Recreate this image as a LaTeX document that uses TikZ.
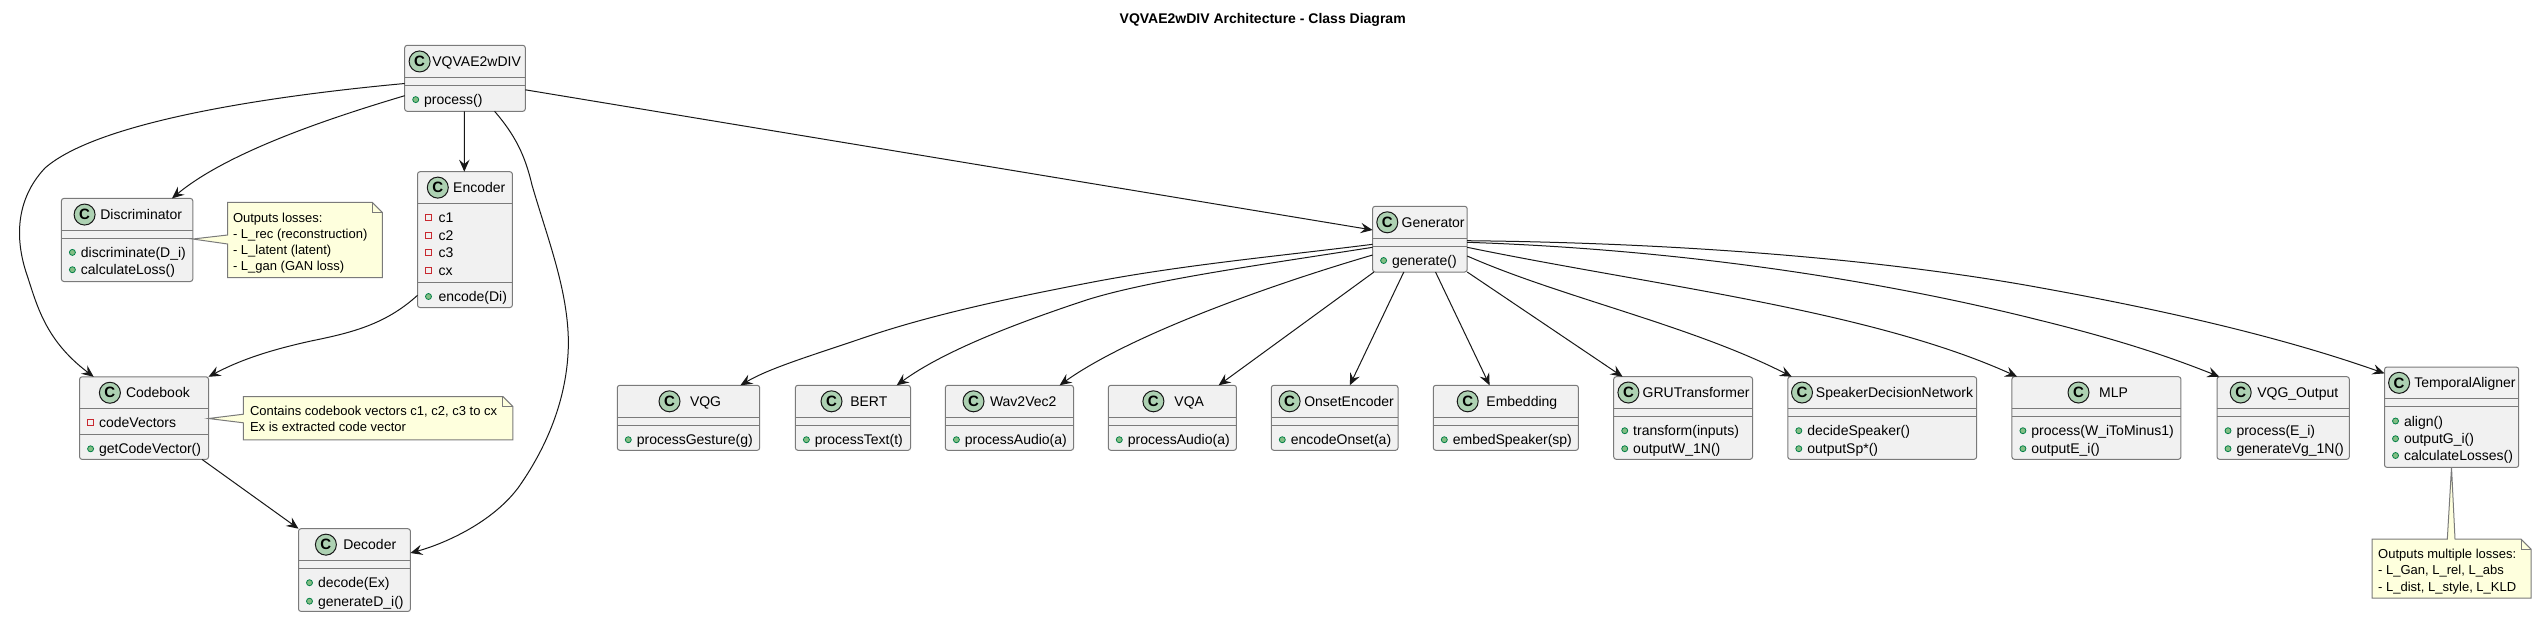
\documentclass[tikz,border=0pt]{standalone}
\usepackage{fontspec}
\setmainfont{Liberation Sans}
\usetikzlibrary{arrows.meta}
\definecolor{boxfill}{HTML}{F1F1F1}
\definecolor{boxline}{HTML}{7A7A7A}
\definecolor{notefill}{HTML}{FEFFDD}
\definecolor{circfill}{HTML}{ADD1B2}
\definecolor{inkline}{HTML}{181818}
\definecolor{pubfill}{HTML}{84BE84}
\definecolor{publine}{HTML}{038048}
\definecolor{privline}{HTML}{C82930}
\tikzset{
  classbox/.style={draw=boxline,fill=boxfill,line width=0.5pt,rounded corners=1.25pt,inner sep=0pt,outer sep=0pt},
  sepline/.style={draw=boxline,line width=0.5pt},
  cnamefont/.style={inner sep=0pt,outer sep=0pt,anchor=base west,text=black,font=\fontsize{7}{8.4}\selectfont},
  memberfont/.style={inner sep=0pt,outer sep=0pt,anchor=base west,text=black,font=\fontsize{7}{8.4}\selectfont},
  notefont/.style={inner sep=0pt,outer sep=0pt,anchor=base west,text=black,font=\fontsize{6.5}{7.8}\selectfont},
  notebody/.style={draw=boxline,fill=notefill,line width=0.5pt,line join=miter},
  foldline/.style={draw=boxline,line width=0.5pt},
  spot/.style={draw=inkline,fill=circfill,line width=0.5pt},
  edge/.style={draw=inkline,line width=0.5pt,-{Stealth[length=6pt,width=5.2pt,inset=2.2pt]}},
}
\newcommand{\cbox}[7]{%
  \node[classbox,minimum width={(#4-#2)*0.5},minimum height={(#5-#3)*0.5}] (#1) at ({(#2+#4)/2},{(#3+#5)/2}) {};
  \draw[sepline] (#2,#6) -- (#4,#6);
  \draw[sepline] (#2,#7) -- (#4,#7);
  \pgfmathsetmacro{\ym}{(#3+#6)/2}
  \pgfmathsetmacro{\xm}{#2+11}
  \pgfmathsetmacro{\xt}{#2+19.5}
}
\newcommand{\chead}[4]{%
  \fill[spot] (#2,\ym) circle (5.25pt);
  \node[inner sep=0pt,text=black,font=\fontsize{7.5}{9}\selectfont\bfseries] (#1-c) at (#2,\ym) {C};
  \node[cnamefont] (#1-t) at (#3,{\ym+5}) {#4};
}
\newcommand{\pubm}[3]{%
  \fill[draw=publine,fill=pubfill,line width=0.4pt] (\xm,#2) circle (1.5pt);
  \node[memberfont] (#1) at (\xt,{#2+5}) {#3};
}
\newcommand{\prim}[3]{%
  \draw[privline,line width=0.4pt] ({\xm-3},{#2-3}) rectangle ({\xm+3},{#2+3});
  \node[memberfont] (#1) at (\xt,{#2+5}) {#3};
}
\begin{document}
\begin{tikzpicture}[x=0.5pt,y=-0.5pt]
\useasboundingbox (0,0) rectangle (2538,617);
\fill[white] (0,0) rectangle (2538,617);
\node[inner sep=0pt,text=black,font=\fontsize{7}{8.4}\selectfont\bfseries] (title) at (1262.7,20) {VQVAE2wDIV Architecture - Class Diagram};

% connectors first
\cbox{vq}{404.7}{45.3}{525.3}{111.3}{77.6}{85.4}
\chead{vq}{419.6}{432.4}{VQVAE2wDIV}
\pubm{vq-1}{99.6}{process()}

\cbox{disc}{61.4}{198.4}{192.8}{281.5}{230.7}{238.6}
\chead{disc}{84.6}{100.3}{Discriminator}
\pubm{disc-1}{252.4}{discriminate(D\_i)}
\pubm{disc-2}{269.7}{calculateLoss()}

\cbox{enc}{417.5}{171.7}{512.4}{307.5}{203.5}{282.7}
\chead{enc}{437.8}{453.2}{Encoder}
\pgfmathsetmacro{\xm}{417.5+11}\pgfmathsetmacro{\xt}{417.5+21}
\prim{enc-1}{217.3}{c1}
\prim{enc-2}{235.4}{c2}
\prim{enc-3}{252.8}{c3}
\prim{enc-4}{270.5}{cx}
\pubm{enc-5}{296.5}{encode(Di)}

\cbox{cb}{79.6}{376.8}{208.5}{459.4}{408.7}{434.6}
\chead{cb}{109.9}{126}{Codebook}
\prim{cb-1}{422.4}{codeVectors}
\pubm{cb-2}{448.8}{getCodeVector()}

\cbox{dec}{298.5}{528.7}{410.4}{611.4}{560.6}{568.5}
\chead{dec}{325.9}{343.3}{Decoder}
\pubm{dec-1}{582.7}{decode(Ex)}
\pubm{dec-2}{601.2}{generateD\_i()}

\cbox{gen}{1372.6}{206.3}{1467.2}{272}{238.3}{246.3}
\chead{gen}{1387.3}{1401.6}{Generator}
\pubm{gen-1}{260.5}{generate()}

\cbox{vqg}{617.3}{385.3}{759.7}{450.3}{417.3}{425.3}
\chead{vqg}{669.5}{690}{VQG}
\pubm{vqg-1}{439.7}{processGesture(g)}

\cbox{bert}{795.4}{385.3}{910.5}{450.3}{417.3}{425.3}
\chead{bert}{831.5}{850.3}{BERT}
\pubm{bert-1}{439.7}{processText(t)}

\cbox{wav}{945.4}{385.3}{1073.5}{450.3}{417.3}{425.3}
\chead{wav}{973.5}{990}{Wav2Vec2}
\pubm{wav-1}{439.7}{processAudio(a)}

\cbox{vqa}{1108.3}{385.3}{1236.4}{450.3}{417.3}{425.3}
\chead{vqa}{1153.4}{1174.4}{VQA}
\pubm{vqa-1}{439.7}{processAudio(a)}

\cbox{ons}{1271.3}{385.3}{1398}{450.3}{417.3}{425.3}
\chead{ons}{1289.6}{1304.3}{OnsetEncoder}
\pubm{ons-1}{439.7}{encodeOnset(a)}

\cbox{emb}{1433.3}{385.3}{1578.4}{450.3}{417.3}{425.3}
\chead{emb}{1467.7}{1486.4}{Embedding}
\pubm{emb-1}{439.7}{embedSpeaker(sp)}

\cbox{gru}{1613.7}{376.7}{1752.5}{459.3}{408.3}{416.3}
\chead{gru}{1628.4}{1642.7}{GRUTransformer}
\pubm{gru-1}{430.7}{transform(inputs)}
\pubm{gru-2}{448.7}{outputW\_1N()}

\cbox{spk}{1787.8}{376.7}{1976.6}{459.3}{408.3}{416.3}
\chead{spk}{1802}{1815.9}{SpeakerDecisionNetwork}
\pubm{spk-1}{430.7}{decideSpeaker()}
\pubm{spk-2}{448.7}{outputSp*()}

\cbox{mlp}{2011.9}{376.7}{2180.9}{459.3}{408.3}{416.3}
\chead{mlp}{2078.5}{2099.1}{MLP}
\pubm{mlp-1}{430.7}{process(W\_iToMinus1)}
\pubm{mlp-2}{448.7}{outputE\_i()}

\cbox{vqo}{2217}{376.7}{2349.3}{459.3}{408.3}{416.3}
\chead{vqo}{2240.7}{2257.3}{VQG\_Output}
\pubm{vqo-1}{430.7}{process(E\_i)}
\pubm{vqo-2}{448.7}{generateVg\_1N()}

\cbox{ta}{2384.5}{367}{2518.7}{467.4}{398.7}{406.6}
\chead{ta}{2399.1}{2414.4}{TemporalAligner}
\pubm{ta-1}{421}{align()}
\pubm{ta-2}{438.7}{outputG\_i()}
\pubm{ta-3}{455.5}{calculateLosses()}

% connectors
\draw[edge] ([shift={(0,38.2)}]vq.north west) .. controls (280,95) and (100,120) .. (45,168)
  .. controls (15,200) and (15,240) .. (27,275)
  .. controls (37,305) and (45,340) .. ([shift={(14.1,0)}]cb.north west);
\draw[edge] ([shift={(0,50.4)}]vq.north west) .. controls (340,115) and (230,150) .. ([shift={(110.6,0)}]disc.north west);
\draw[edge] ([shift={(59.6,66)}]vq.north west) -- ([shift={(46.8,0)}]enc.north west);
\draw[edge] ([shift={(89.9,66)}]vq.north west) .. controls (515,135) and (525,155) .. (532,185)
  .. controls (548,240) and (568,290) .. (568.4,342.5)
  .. controls (568,400) and (545,450) .. (518,488)
  .. controls (490,525) and (440,545) .. ([shift={(111.9,24.3)}]dec.north west);
\draw[edge] ([shift={(0,123.6)}]enc.north west) .. controls (385,325) and (350,333) .. (311,341)
  .. controls (270,350) and (240,360) .. ([shift={(128.9,0)}]cb.north west);
\draw[edge] ([shift={(122.4,82.6)}]cb.north west) -- (dec.north west);
\draw[edge] ([shift={(120.6,44.5)}]vq.north west) -- ([shift={(0,23.7)}]gen.north west);

\draw[edge] ([shift={(0,38)}]gen.north west) .. controls (1280,256) and (1180,265) .. (1086.4,283.3)
  .. controls (1010,298) and (930,315) .. (863,338)
  .. controls (810,356) and (770,368) .. ([shift={(123.1,0)}]vqg.north west);
\draw[edge] ([shift={(0,41)}]gen.north west) .. controls (1260,265) and (1150,280) .. (1086.4,300)
  .. controls (1020,322) and (945,350) .. ([shift={(101.3,0)}]bert.north west);
\draw[edge] ([shift={(0,48.7)}]gen.north west) .. controls (1270,285) and (1130,335) .. ([shift={(114.2,0)}]wav.north west);
\draw[edge] ([shift={(1.4,65.7)}]gen.north west) -- ([shift={(110.3,0)}]vqa.north west);
\draw[edge] ([shift={(31.2,65.7)}]gen.north west) -- ([shift={(78.5,0)}]ons.north west);
\draw[edge] ([shift={(62.9,65.7)}]gen.north west) -- ([shift={(56.3,0)}]emb.north west);
\draw[edge] ([shift={(94.6,65.7)}]gen.north west) -- ([shift={(8.9,0)}]gru.north west);
\draw[edge] ([shift={(94.6,49.7)}]gen.north west) .. controls (1560,297) and (1690,325) .. ([shift={(4,0)}]spk.north west);
\draw[edge] ([shift={(94.6,41)}]gen.north west) .. controls (1650,285) and (1870,310) .. ([shift={(5.3,0)}]mlp.north west);
\draw[edge] ([shift={(94.6,36)}]gen.north west) .. controls (1700,250) and (1900,285) .. (2040,320.3)
  .. controls (2120,340) and (2170,357) .. ([shift={(2.4,0)}]vqo.north west);
\draw[edge] ([shift={(94.6,34.4)}]gen.north west) .. controls (1700,243) and (1900,262) .. (2040,287.7)
  .. controls (2180,313) and (2290,340) .. ([shift={(0,6.4)}]ta.north west);

% notes
\draw[notebody] (227.6,202.4) -- (372.3,202.4) -- (382.3,212.4) -- (382.3,277.6) -- (227.6,277.6) -- (227.6,244) -- ([shift={(131.4,40.6)}]disc.north west) -- (227.6,235) -- cycle;
\draw[foldline] (372.3,202.4) -- (372.3,212.4) -- (382.3,212.4);
\node[notefont] (n1-1) at (233,222) {Outputs losses:};
\node[notefont] (n1-2) at (233,238) {- L\_rec (reconstruction)};
\node[notefont] (n1-3) at (233,254) {- L\_latent (latent)};
\node[notefont] (n1-4) at (233,270.7) {- L\_gan (GAN loss)};

\draw[notebody] (243.4,396.5) -- (502.9,396.5) -- (512.9,406.5) -- (512.9,439.8) -- (243.4,439.8) -- (243.4,422.8) -- ([shift={(128.9,41.7)}]cb.north west) -- (243.4,414.2) -- cycle;
\draw[foldline] (502.9,396.5) -- (502.9,406.5) -- (512.9,406.5);
\node[notefont] (n2-1) at (250,415.6) {Contains codebook vectors c1, c2, c3 to cx};
\node[notefont] (n2-2) at (250,431.8) {Ex is extracted code vector};

\draw[notebody] (2372.2,539.2) -- (2447.3,539.2) -- ([shift={(67,100.4)}]ta.north west) -- (2455,539.2) -- (2521,539.2) -- (2531,549.2) -- (2531,598) -- (2372.2,598) -- cycle;
\draw[foldline] (2521,539.2) -- (2521,549.2) -- (2531,549.2);
\node[notefont] (n3-1) at (2378.2,558.5) {Outputs multiple losses:};
\node[notefont] (n3-2) at (2378.2,574.4) {- L\_Gan, L\_rel, L\_abs};
\node[notefont] (n3-3) at (2378.2,591.4) {- L\_dist, L\_style, L\_KLD};
\end{tikzpicture}
\end{document}
